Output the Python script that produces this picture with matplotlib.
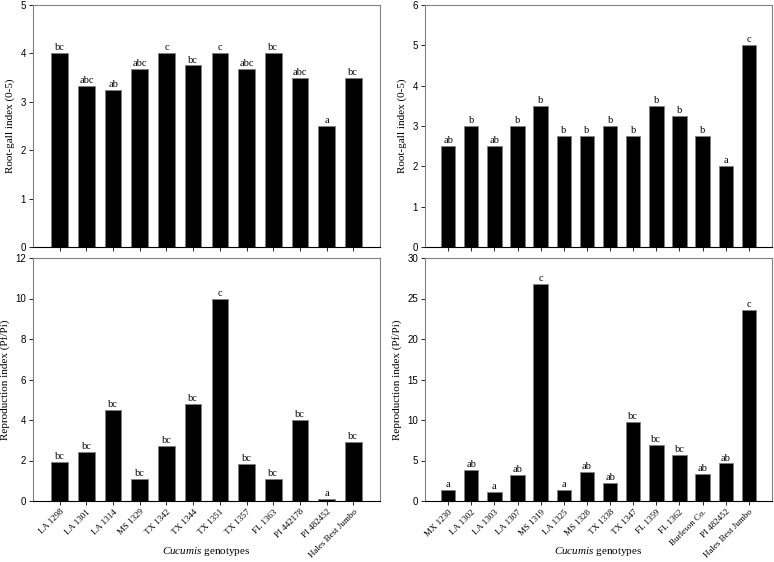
import matplotlib.pyplot as plt
import numpy as np

plt.rcParams['mathtext.fontset'] = 'custom'
plt.rcParams['mathtext.it'] = 'Liberation Serif:italic'
plt.rcParams['mathtext.rm'] = 'Liberation Serif'

# Genotipos y valores de cada panel
gen_izq = ['LA 1298', 'LA 1301', 'LA 1314', 'MS 1329', 'TX 1342', 'TX 1344',
           'TX 1351', 'TX 1357', 'FL 1363', 'PI 442178', 'PI 482452', 'Hales Best Jumbo']
agalla_izq = [4.0, 3.33, 3.25, 3.67, 4.0, 3.75, 4.0, 3.67, 4.0, 3.5, 2.5, 3.5]
letras_agalla_izq = ['bc', 'abc', 'ab', 'abc', 'c', 'bc', 'c', 'abc', 'bc', 'abc', 'a', 'bc']
repro_izq = [1.95, 2.4, 4.5, 1.07, 2.7, 4.77, 9.97, 1.85, 1.1, 4.02, 0.1, 2.92]
letras_repro_izq = ['bc', 'bc', 'bc', 'bc', 'bc', 'bc', 'c', 'bc', 'bc', 'bc', 'a', 'bc']

gen_der = ['MX 1230', 'LA 1302', 'LA 1303', 'LA 1307', 'MS 1319', 'LA 1325', 'MS 1328',
           'TX 1338', 'TX 1347', 'FL 1359', 'FL 1362', 'Burleson Co.', 'PI 482452',
           'Hales Best Jumbo']
agalla_der = [2.5, 3.0, 2.5, 3.0, 3.5, 2.75, 2.75, 3.0, 2.75, 3.5, 3.25, 2.75, 2.0, 5.0]
letras_agalla_der = ['ab', 'b', 'ab', 'b', 'b', 'b', 'b', 'b', 'b', 'b', 'b', 'b', 'a', 'c']
repro_der = [1.35, 3.82, 1.08, 3.2, 26.85, 1.3, 3.55, 2.17, 9.7, 6.88, 5.68, 3.32, 4.63, 23.6]
letras_repro_der = ['a', 'ab', 'a', 'ab', 'c', 'a', 'ab', 'ab', 'bc', 'bc', 'bc', 'ab', 'ab', 'c']

serif = 'Liberation Serif'
sans = 'Liberation Sans'
gris = '#808080'

fig = plt.figure(figsize=(7.74, 5.62), dpi=100)


def panel(rect, valores, letras, nombres, ymax, paso, ylabel, etiquetas):
    ax = fig.add_axes(rect)
    x = np.arange(len(valores))
    ax.bar(x, valores, width=0.62, color='black', edgecolor=gris, linewidth=0.6)
    for xi, v, l in zip(x, valores, letras):
        ax.text(xi, v + ymax * 0.004, l, ha='center', va='bottom',
                family=serif, fontsize=7.5)
    ax.set_xlim(-1, len(valores))
    ax.set_ylim(0, ymax)
    ax.set_yticks(np.arange(0, ymax + paso / 2, paso))
    ax.set_xticks(x)
    if etiquetas:
        ax.set_xticklabels(nombres, rotation=45, ha='right', rotation_mode='anchor',
                           family=serif, fontsize=6.5)
    else:
        ax.set_xticklabels([])
    for lab in ax.get_yticklabels():
        lab.set_family(sans)
        lab.set_fontsize(7)
    ax.tick_params(direction='out', length=3, width=0.6, color='black', pad=2)
    for s in ax.spines.values():
        s.set_color(gris)
        s.set_linewidth(0.8)
    ax.spines['bottom'].set_color('black')
    ax.set_ylabel(ylabel, family=serif, fontsize=8, labelpad=4)
    return ax


w_izq = (380 - 33) / 774
w_der = (772 - 425) / 774
alto_sup = (247 - 5) / 562
alto_inf = (501 - 258) / 562

panel([33 / 774, 1 - 247 / 562, w_izq, alto_sup], agalla_izq, letras_agalla_izq,
      gen_izq, 5, 1, 'Root-gall index (0-5)', False)
a1 = panel([33 / 774, 1 - 501 / 562, w_izq, alto_inf], repro_izq, letras_repro_izq,
           gen_izq, 12, 2, 'Reproduction index (Pf/Pi)', True)
panel([425 / 774, 1 - 247 / 562, w_der, alto_sup], agalla_der, letras_agalla_der,
      gen_der, 6, 1, 'Root-gall index (0-5)', False)
a2 = panel([425 / 774, 1 - 501 / 562, w_der, alto_inf], repro_der, letras_repro_der,
           gen_der, 30, 5, 'Reproduction index (Pf/Pi)', True)

for ax in (a1, a2):
    ax.set_xlabel('$\\it{Cucumis}$ genotypes', family=serif, fontsize=8)
    ax.xaxis.set_label_coords(0.5, -50 / 243)
    ax.xaxis.label.set_va('center')

fig.savefig('out.png', dpi=100)
